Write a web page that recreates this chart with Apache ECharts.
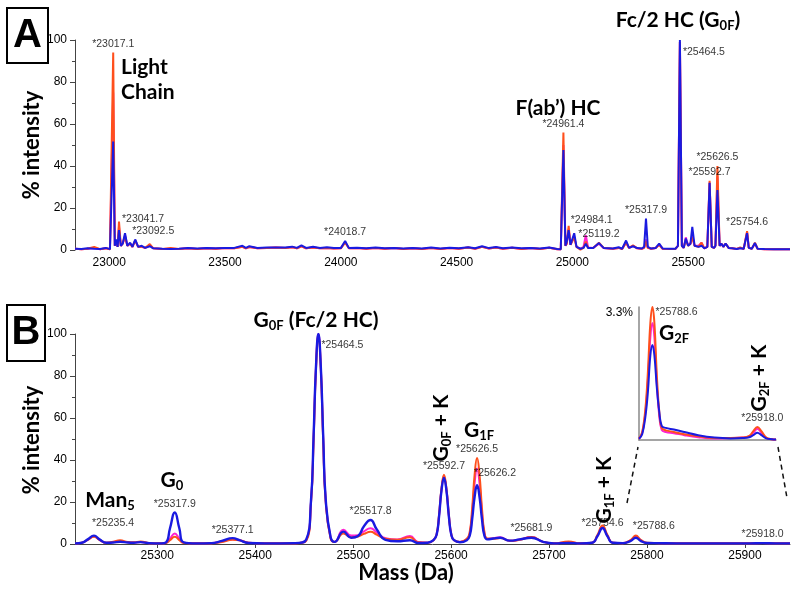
<!DOCTYPE html>
<html>
<head>
<meta charset="utf-8">
<script src="https://cdn.jsdelivr.net/npm/echarts@6/dist/echarts.min.js"></script>
<style>
html, body { margin: 0; padding: 0; background: #fff; }
#chart { width: 800px; height: 590px; }
</style>
</head>
<body>
<div id="chart"></div>
<script>
// panel A - full deconvoluted spectrum
var massA = [
    22852, 22880, 22905, 22935, 22960, 22985, 23003, 23010, 23017, 23024,
    23030, 23036, 23042, 23050, 23058, 23068, 23078, 23090, 23100, 23112,
    23125, 23140, 23155, 23175, 23190, 23230, 23265, 23300, 23340, 23380,
    23420, 23460, 23500, 23540, 23575, 23590, 23605, 23640, 23680, 23720,
    23760, 23790, 23810, 23830, 23850, 23880, 23910, 23940, 23970, 24000,
    24018.7, 24035, 24070, 24110, 24150, 24190, 24230, 24270, 24310, 24350,
    24390, 24430, 24470, 24510, 24550, 24580, 24610, 24640, 24670, 24700,
    24740, 24780, 24820, 24860, 24900, 24935, 24950, 24961.4, 24970, 24976,
    24984, 24992, 25000, 25008, 25018, 25035, 25048, 25058, 25068, 25090,
    25115, 25135, 25175, 25200, 25215, 25232, 25245, 25262, 25280, 25300,
    25310, 25318, 25326, 25340, 25360, 25375, 25390, 25420, 25445, 25456,
    25464.5, 25473, 25481, 25490, 25500, 25510, 25518, 25528, 25545, 25558,
    25570, 25583, 25592.7, 25602, 25612, 25618, 25626.5, 25636, 25644, 25652,
    25662, 25675, 25690, 25710, 25725, 25740, 25748, 25754.6, 25762, 25775,
    25788.6, 25800, 25830, 25870, 25940
];
var orangeA = [
    0.6, 0.4, 0.6, 1.5, 0.4, 0.8, 0.4, 1, 94, 2,
    4, 1.5, 13.5, 2, 3, 6.5, 2, 3, 1.5, 4.5,
    1.5, 1.5, 1, 2.8, 0.8, 0.5, 0.9, 0.5, 0.8, 0.5,
    0.8, 0.6, 0.9, 0.8, 1.5, 0.8, 1.4, 0.8, 1, 1.2,
    1, 1.3, 0.8, 1.8, 0.8, 1.2, 0.8, 1, 0.7, 0.8,
    3.5, 0.8, 0.9, 0.6, 1, 0.6, 0.9, 0.5, 0.8, 0.5,
    1, 0.5, 1, 0.6, 1.2, 0.6, 1.5, 0.7, 1.2, 0.6,
    1.1, 0.5, 0.9, 0.5, 1.1, 0.4, 0.4, 56, 2, 3,
    11.5, 2.5, 3, 6, 1.5, 0.2, 1, 4, 1, 1,
    3.5, 1, 0.6, 1, 0.5, 3.5, 1, 2.2, 0.8, 0.6,
    1, 4, 1, 0.6, 1, 2.5, 0.6, 0.5, 0.5, 2,
    99, 2, 1, 5, 2, 3, 6, 2, 1.5, 3.5,
    0.8, 1.5, 33, 1.5, 1, 2, 40, 2, 3, 1.5,
    3, 1, 0.8, 0.5, 1.2, 0.5, 1, 9, 1, 0.6,
    3.5, 0.6, 0.4, 0.3, 0.3
];
var magentaA = [
    0.6, 0.4, 0.6, 1, 0.4, 0.8, 0.4, 1, 75, 2,
    4, 1.5, 11, 2, 3, 7, 2, 3, 1.5, 4.5,
    1.5, 1.5, 1, 2.2, 0.8, 0.5, 0.6, 0.5, 0.8, 0.5,
    0.8, 0.6, 0.9, 0.8, 1.5, 0.8, 1.4, 0.8, 1, 1.2,
    1, 1.3, 0.8, 1.8, 0.8, 1.2, 0.8, 1, 0.7, 0.8,
    3.8, 0.8, 0.9, 0.6, 1, 0.6, 0.9, 0.5, 0.8, 0.5,
    1, 0.5, 1, 0.6, 1.2, 0.6, 1.5, 0.7, 1.2, 0.6,
    1.1, 0.5, 0.9, 0.5, 1.1, 0.4, 0.4, 50, 2, 3,
    10, 2.5, 3, 6.5, 1.5, 0.6, 1.5, 7, 1.2, 1,
    3, 1, 0.6, 1, 0.5, 3.5, 1, 2, 0.8, 0.6,
    1, 5, 1, 0.6, 1, 2.5, 0.6, 0.5, 0.5, 2,
    99, 2, 1, 6, 2.2, 3, 7, 2, 2, 3.5,
    0.8, 1.5, 32, 1.5, 1, 2, 35, 2, 3, 1.5,
    3, 1, 0.8, 0.5, 1, 0.5, 1, 8.5, 1, 0.6,
    3, 0.6, 0.4, 0.3, 0.3
];
var blueA = [
    0.6, 0.5, 0.8, 0.6, 0.5, 1, 0.4, 1, 51.6, 2,
    5, 1.5, 9.5, 2, 3, 8, 2, 3.5, 1.5, 5,
    1.5, 2, 1, 1.8, 0.8, 0.6, 0.5, 0.6, 0.9, 0.7,
    1, 0.8, 1, 1, 2, 1, 1.8, 1, 1.2, 1.2,
    1.2, 1.6, 1, 2.2, 1, 1.5, 1, 1.3, 0.9, 0.9,
    4.3, 0.9, 1.1, 0.8, 1.2, 0.8, 1, 0.7, 1, 0.7,
    1.2, 0.7, 1.1, 0.8, 1.3, 0.8, 1.8, 0.9, 1.4, 0.8,
    1.2, 0.8, 1, 0.7, 1.2, 0.5, 0.4, 47.6, 2, 4,
    9.5, 2.5, 3, 8, 1.5, 0.6, 1, 3, 1, 1,
    3.3, 1, 0.7, 1.3, 0.6, 4.5, 1, 1.8, 0.9, 0.7,
    1.5, 15, 1.5, 0.7, 1, 3, 0.7, 0.6, 0.6, 2,
    100, 2, 1, 5.5, 2, 3, 11, 2, 1.5, 2,
    0.8, 1.5, 32, 1.5, 1, 2, 28.5, 2, 3, 1.5,
    3, 1, 0.8, 0.5, 0.8, 0.6, 1, 8, 1, 0.6,
    3.3, 0.6, 0.5, 0.4, 0.4
];

// panel B - zoom on the Fc/2 glycoforms
var massB = [
    25216, 25223, 25229, 25235.4, 25241, 25248, 25255, 25262, 25270, 25276,
    25283, 25292, 25304, 25309, 25313, 25317.9, 25322.5, 25327, 25340, 25355,
    25366, 25377, 25384, 25393, 25410, 25440, 25452, 25457, 25459.5, 25462,
    25464.5, 25467, 25469.5, 25472, 25477, 25481, 25490, 25498, 25505, 25511,
    25517.8, 25524, 25533, 25545, 25558, 25566, 25576, 25582, 25585.2, 25587.7,
    25590.2, 25592.7, 25595.2, 25597.7, 25600.2, 25603, 25609, 25616, 25619, 25621.5,
    25624, 25626.5, 25629, 25631.5, 25634, 25637, 25643, 25650, 25660, 25670,
    25682, 25694, 25705, 25720, 25732, 25744, 25749.5, 25754.6, 25759.5, 25765,
    25775, 25783.5, 25788.6, 25793.5, 25800, 25812, 25830, 25870, 25905, 25918,
    25931, 25946
];
var orangeB = [
    0.3, 0.6, 2, 3.4, 2, 0.6, 1.1, 1.8, 0.9, 0.8,
    1.2, 0.4, 0.3, 0.5, 1.8, 3.5, 1.8, 0.5, 0.3, 0.4,
    1, 2, 1.8, 0.6, 0.3, 0.4, 1.5, 20, 48, 83,
    99, 83, 48, 20, 2.5, 1, 5, 3.2, 3.6, 4.8,
    5.8, 4.5, 2.5, 2, 3.2, 0.8, 0.6, 1.8, 4.6, 14,
    26.5, 33, 26.5, 14, 4.6, 1.8, 1, 2.5, 5.7, 17,
    33, 41, 33, 17, 5.7, 2.6, 2.5, 2.8, 1.5, 2,
    3.3, 1, 0.3, 1.2, 0.3, 0.6, 4.4, 8.8, 4.4, 0.6,
    0.4, 2, 4, 2, 0.6, 0.5, 0.3, 0.3, 0.3, 0.5,
    0.3, 0.3
];
var magentaB = [
    0.3, 0.6, 2, 3.6, 2, 0.6, 0.9, 1.4, 0.8, 0.7,
    1, 0.4, 0.3, 0.6, 2.5, 5, 2.5, 0.6, 0.3, 0.4,
    1.2, 2.3, 1.8, 0.6, 0.3, 0.4, 1.8, 20.5, 49, 84,
    100, 84, 49, 20.5, 3, 1, 6.8, 4, 4.2, 6,
    7.5, 5.5, 2.8, 2.2, 3.8, 1, 0.6, 1.8, 4.5, 13.5,
    26, 32, 26, 13.5, 4.5, 1.8, 1, 2.2, 5, 15,
    29, 36, 29, 15, 5, 2.4, 2.8, 3.2, 1.5, 2.1,
    3.3, 1, 0.3, 0.8, 0.3, 0.6, 4, 8, 4, 0.6,
    0.4, 1.8, 3.5, 1.8, 0.5, 0.4, 0.3, 0.3, 0.3, 0.45,
    0.3, 0.3
];
var blueB = [
    0.3, 0.6, 2.2, 4, 2.2, 0.6, 0.7, 1.1, 0.7, 0.6,
    0.9, 0.4, 0.3, 0.8, 7.5, 15, 7.5, 0.8, 0.3, 0.4,
    1.5, 2.8, 1.8, 0.5, 0.3, 0.4, 2, 21, 50, 84,
    100, 84, 50, 21, 3.2, 1, 5.9, 3, 3.8, 8.5,
    11.4, 7, 2, 1.3, 1.8, 0.5, 0.6, 1.8, 4.4, 13.2,
    25.5, 31.5, 25.5, 13.2, 4.4, 1.8, 0.8, 1.8, 3.9, 11.8,
    22.5, 28, 22.5, 11.8, 3.9, 2.2, 2.6, 3, 1.6, 2.2,
    3, 1, 0.3, 0.5, 0.3, 0.6, 3.8, 7.6, 3.8, 0.6,
    0.4, 1.5, 3, 1.5, 0.5, 0.4, 0.3, 0.3, 0.3, 0.4,
    0.3, 0.3
];

// inset - G2F region, 0..3.3 %
var massInset = [25772, 25776, 25780, 25783, 25786, 25788.6, 25791, 25794, 25797, 25800, 25805, 25815,
    25828, 25845, 25865, 25885, 25900, 25908, 25913, 25918, 25923, 25929, 25936, 25941];
var orangeInset = [0.03, 0.2, 0.8, 1.7, 2.9, 3.3, 2.9, 1.6, 0.7, 0.3, 0.24, 0.2,
    0.14, 0.09, 0.05, 0.05, 0.06, 0.1, 0.22, 0.32, 0.22, 0.06, 0.02, 0.01];
var magentaInset = [0.03, 0.18, 0.7, 1.5, 2.55, 2.9, 2.55, 1.4, 0.6, 0.25, 0.2, 0.17,
    0.12, 0.07, 0.04, 0.05, 0.06, 0.09, 0.18, 0.28, 0.18, 0.05, 0.02, 0.01];
var blueInset = [0.03, 0.15, 0.6, 1.2, 2.1, 2.36, 2.1, 1.3, 0.7, 0.35, 0.3, 0.26,
    0.2, 0.12, 0.06, 0.04, 0.05, 0.07, 0.12, 0.18, 0.12, 0.04, 0.02, 0.01];

// peak mass labels
var peakMassA = [23017, 23042, 23112, 24018.7, 24961.4, 24984, 25115, 25318, 25464.5, 25626.5, 25592.7, 25754.6];
var peakValA = [94, 13.5, 5, 4.3, 56, 11.5, 3.5, 15, 100, 40, 33, 9];
var peakTextA = ['*23017.1', '*23041.7', '*23092.5', '*24018.7', '*24961.4', '*24984.1', '*25119.2',
    '*25317.9', '*25464.5', '*25626.5', '*25592.7', '*25754.6'];

var peakMassB = [25235.4, 25317.9, 25377, 25464.5, 25517.8, 25592.7, 25626.5, 25626.5, 25682, 25754.6, 25788.6, 25918];
var peakValB = [4, 15, 2.8, 100, 11.4, 33, 41, 31, 3.3, 8.8, 4, 0.5];
var peakTextB = ['*25235.4', '*25317.9', '*25377.1', '*25464.5', '*25517.8', '*25592.7', '*25626.5',
    '*25626.2', '*25681.9', '*25754.6', '*25788.6', '*25918.0'];

var peakMassInset = [25788.6, 25918];
var peakValInset = [3.3, 0.32];
var peakTextInset = ['*25788.6', '*25918.0'];

var C_ORANGE = '#ff4f1c';
var C_MAGENTA = '#ff22d2';
var C_BLUE = '#1a1ae0';
var BOLD_FONT = 'Lato';

var myChart = echarts.init(document.getElementById('chart'));

function pairs(ms, vs) {
    return ms.map(function (m, i) { return [m, vs[i]]; });
}

function lineSeries(idx, ms, vs, color, width, smooth) {
    return {
        type: 'line',
        xAxisIndex: idx,
        yAxisIndex: idx,
        data: pairs(ms, vs),
        showSymbol: false,
        symbol: 'none',
        smooth: smooth,
        clip: true,
        lineStyle: { color: color, width: width },
        silent: true
    };
}

function labelSeries(idx, ms, vs, texts, tweaks) {
    return {
        type: 'scatter',
        xAxisIndex: idx,
        yAxisIndex: idx,
        symbolSize: 2,
        silent: true,
        z: 6,
        itemStyle: { color: 'rgba(0,0,0,0)' },
        data: ms.map(function (m, i) {
            var t = tweaks[texts[i]] || {};
            return {
                value: [m, vs[i]],
                label: {
                    position: t.pos || 'top',
                    offset: t.off || [0, 0],
                    distance: 2,
                    formatter: texts[i]
                }
            };
        }),
        label: {
            show: true,
            fontSize: 10.5,
            color: '#000',
            fontFamily: 'Liberation Sans'
        }
    };
}

var tweakA = {
    '*23041.7': { pos: 'right', off: [0, -3] },
    '*23092.5': { off: [18, 0] },
    '*24984.1': { pos: 'right', off: [-1, -6] },
    '*25464.5': { pos: 'right', off: [0, 12] }
};
var tweakB = {
    '*25235.4': { off: [19, -4] },
    '*25464.5': { pos: 'right', off: [0, 11] },
    '*25626.2': { pos: 'right', off: [-6, -6] },
    '*25754.6': { off: [0, 6] },
    '*25788.6': { off: [18, -1] }
};
var tweakInset = {
    '*25788.6': { pos: 'right', off: [0, 5] },
    '*25918.0': { off: [5, 0] }
};

var tickLabel = {
    fontSize: 12, color: '#000', fontFamily: 'Liberation Sans',
    formatter: function (v) { return String(v); }
};

function yAxisMain(idx) {
    return {
        type: 'value', gridIndex: idx, min: 0, max: 100, interval: 20,
        axisLine: { show: true, lineStyle: { color: '#444', width: 1 } },
        axisTick: { show: true, length: 5, lineStyle: { color: '#444' } },
        minorTick: { show: true, splitNumber: 2, length: 3, lineStyle: { color: '#444' } },
        splitLine: { show: false },
        minorSplitLine: { show: false },
        axisLabel: Object.assign({}, tickLabel, { margin: 8 })
    };
}

function sub(str) {
    return '{s|' + str + '}';
}
function b(str) {
    return '{b|' + str + '}';
}
var richBold = {
    b: { fontSize: 21, fontWeight: 'bold', fontFamily: BOLD_FONT, color: '#1a1a1a' },
    s: { fontSize: 13, fontWeight: 'bold', fontFamily: BOLD_FONT, color: '#1a1a1a', padding: [12, 0, 0, 0] }
};
function note(x, y, text, rot, align) {
    return {
        type: 'text', x: x, y: y, rotation: rot || 0, z: 20,
        style: {
            text: text, rich: richBold,
            align: align || 'center', verticalAlign: 'middle'
        }
    };
}

var option = {
    animation: false,
    backgroundColor: '#fff',
    textStyle: { fontFamily: 'Liberation Sans' },
    grid: [
        { left: 75, top: 40, width: 715, height: 210, outerBoundsMode: 'none' },
        { left: 75, top: 334, width: 715, height: 210, outerBoundsMode: 'none' },
        { left: 639, top: 307, width: 137, height: 133, outerBoundsMode: 'none' }
    ],
    xAxis: [
        {
            type: 'value', gridIndex: 0, min: 22852, max: 25940, splitNumber: 6,
            axisLine: { show: false }, axisTick: { show: false }, splitLine: { show: false },
            axisLabel: Object.assign({}, tickLabel, { margin: 7, showMinLabel: false, showMaxLabel: false })
        },
        {
            type: 'value', gridIndex: 1, min: 25216, max: 25946, splitNumber: 7,
            axisLine: { show: true, lineStyle: { color: '#444', width: 1 } },
            axisTick: { show: true, length: 4, lineStyle: { color: '#444' } },
            splitLine: { show: false },
            axisLabel: Object.assign({}, tickLabel, { margin: 6, showMinLabel: false, showMaxLabel: false })
        },
        {
            type: 'value', gridIndex: 2, min: 25772, max: 25941,
            axisLine: { show: true, onZero: false, lineStyle: { color: '#888', width: 1.5 } },
            axisTick: { show: false }, axisLabel: { show: false }, splitLine: { show: false }
        }
    ],
    yAxis: [
        yAxisMain(0),
        yAxisMain(1),
        {
            type: 'value', gridIndex: 2, min: 0, max: 3.3, interval: 3.3,
            axisLine: { show: true, lineStyle: { color: '#888', width: 1.5 } },
            axisTick: { show: false }, splitLine: { show: false },
            axisLabel: Object.assign({}, tickLabel, {
                margin: 6, verticalAlign: 'top',
                formatter: function (v) { return v >= 3.3 ? '3.3%' : ''; }
            })
        }
    ],
    series: [
        lineSeries(0, massA, magentaA, C_MAGENTA, 2, false),
        lineSeries(0, massA, orangeA, C_ORANGE, 2, false),
        lineSeries(0, massA, blueA, C_BLUE, 2, false),
        labelSeries(0, peakMassA, peakValA, peakTextA, tweakA),

        lineSeries(1, massB, magentaB, C_MAGENTA, 2, 0.5),
        lineSeries(1, massB, orangeB, C_ORANGE, 2, 0.5),
        lineSeries(1, massB, blueB, C_BLUE, 2.4, 0.5),
        labelSeries(1, peakMassB, peakValB, peakTextB, tweakB),

        lineSeries(2, massInset, magentaInset, C_MAGENTA, 2, 0.4),
        lineSeries(2, massInset, orangeInset, C_ORANGE, 2, 0.4),
        lineSeries(2, massInset, blueInset, C_BLUE, 2, 0.4),
        labelSeries(2, peakMassInset, peakValInset, peakTextInset, tweakInset)
    ],
    graphic: [
        // panel letters
        { type: 'rect', shape: { x: 7, y: 8, width: 41, height: 55 }, style: { fill: '#fff', stroke: '#000', lineWidth: 2 } },
        { type: 'text', x: 27.5, y: 36, style: { text: 'A', fontSize: 40, fontWeight: 'bold', fontFamily: 'Liberation Sans', fill: '#000', align: 'center', verticalAlign: 'middle' } },
        { type: 'rect', shape: { x: 7, y: 305, width: 38, height: 56 }, style: { fill: '#fff', stroke: '#000', lineWidth: 2 } },
        { type: 'text', x: 26, y: 333, style: { text: 'B', fontSize: 40, fontWeight: 'bold', fontFamily: 'Liberation Sans', fill: '#000', align: 'center', verticalAlign: 'middle' } },

        // axis titles
        { type: 'text', x: 32, y: 145, rotation: Math.PI / 2, style: { text: '% intensity', fontSize: 22, fontWeight: 'bold', fontFamily: BOLD_FONT, fill: '#000', align: 'center', verticalAlign: 'middle' } },
        { type: 'text', x: 32, y: 440, rotation: Math.PI / 2, style: { text: '% intensity', fontSize: 22, fontWeight: 'bold', fontFamily: BOLD_FONT, fill: '#000', align: 'center', verticalAlign: 'middle' } },
        { type: 'text', x: 406, y: 573, style: { text: 'Mass (Da)', fontSize: 22, fontWeight: 'bold', fontFamily: BOLD_FONT, fill: '#000', align: 'center', verticalAlign: 'middle' } },

        // panel A annotations
        note(121, 67, b('Light'), 0, 'left'),
        note(121, 92, b('Chain'), 0, 'left'),
        note(558, 108, b('F(ab\u2019) HC')),
        note(678, 20, b('Fc/2 HC (G') + sub('0F') + b(')')),

        // panel B annotations
        note(316, 320, b('G') + sub('0F') + b(' (Fc/2 HC)')),
        note(110, 500, b('Man') + sub('5')),
        note(172, 480, b('G') + sub('0')),
        note(441, 428, b('G') + sub('0F') + b(' + K'), Math.PI / 2),
        note(479, 430, b('G') + sub('1F')),
        note(604, 490, b('G') + sub('1F') + b(' + K'), Math.PI / 2),
        note(674, 333, b('G') + sub('2F')),
        note(759, 378, b('G') + sub('2F') + b(' + K'), Math.PI / 2),

        // zoom guides for the inset
        { type: 'line', shape: { x1: 627, y1: 503, x2: 638, y2: 447 }, style: { stroke: '#111', lineWidth: 1.5, lineDash: [5, 4] } },
        { type: 'line', shape: { x1: 778, y1: 447, x2: 787, y2: 498 }, style: { stroke: '#111', lineWidth: 1.5, lineDash: [5, 4] } }
    ]
};

myChart.setOption(option);
</script>
</body>
</html>
